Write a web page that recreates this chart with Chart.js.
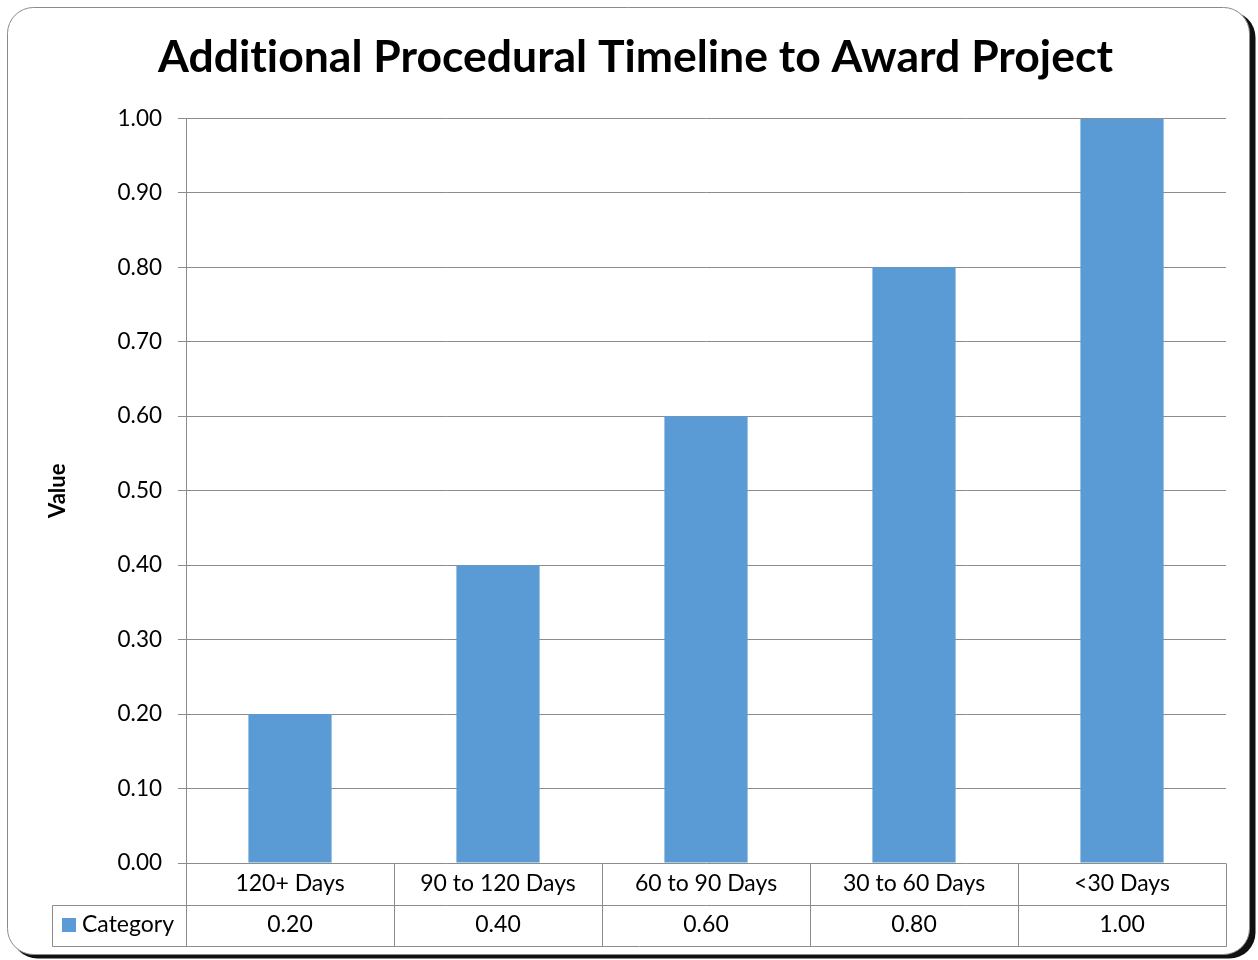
<!DOCTYPE html>
<html>
<head>
<meta charset="utf-8">
<script src="https://cdn.jsdelivr.net/npm/chart.js@4"></script>
<style>
  body { margin: 0; background: #fff; }
  #wrap { width: 1258px; height: 960px; }
</style>
</head>
<body>
<div id="wrap"><canvas id="myChart" width="1258" height="960"></canvas></div>
<script>
const categories = ["120+ Days", "90 to 120 Days", "60 to 90 Days", "30 to 60 Days", "<30 Days"];
const values = [0.2, 0.4, 0.6, 0.8, 1.0];
const seriesName = "Category";
const yMin = 0;
const yMax = 1;
const yStep = 0.1;

const FONT = "Lato, 'Open Sans', sans-serif";
const BAR = "#5b9bd5";
const LINE = "#8c8c8c";

function roundRectPath(ctx, x, y, w, h, r) {
  ctx.beginPath();
  ctx.moveTo(x + r, y);
  ctx.lineTo(x + w - r, y);
  ctx.arcTo(x + w, y, x + w, y + r, r);
  ctx.lineTo(x + w, y + h - r);
  ctx.arcTo(x + w, y + h, x + w - r, y + h, r);
  ctx.lineTo(x + r, y + h);
  ctx.arcTo(x, y + h, x, y + h - r, r);
  ctx.lineTo(x, y + r);
  ctx.arcTo(x, y, x + r, y, r);
  ctx.closePath();
}

// rounded outer frame with a dark shadow on the right and bottom
const framePlugin = {
  id: "frame",
  beforeDraw(chart) {
    const ctx = chart.ctx;
    ctx.save();
    ctx.fillStyle = "#111";
    roundRectPath(ctx, 11.5, 11.5, 1244, 947, 26);
    ctx.fill();
    ctx.fillStyle = "#fff";
    roundRectPath(ctx, 7.5, 7.5, 1242, 947, 26);
    ctx.fill();
    ctx.strokeStyle = "#8a8a8a";
    ctx.lineWidth = 1;
    ctx.stroke();
    ctx.restore();
  }
};

// data table under the x axis: category row, then value row with legend key
const tablePlugin = {
  id: "dataTable",
  afterDraw(chart) {
    const ctx = chart.ctx;
    const x = chart.scales.x;
    const area = chart.chartArea;
    const n = categories.length;
    const colW = (area.right - area.left) / n;
    const top = Math.round(area.bottom) + 0.5;
    const mid = top + 42;
    const bot = mid + 41;
    const left = Math.round(area.left) + 0.5;
    const right = Math.round(area.right) + 0.5;
    const keyLeft = 52.5;

    ctx.save();
    ctx.strokeStyle = LINE;
    ctx.lineWidth = 1;
    ctx.beginPath();
    ctx.moveTo(left, mid); ctx.lineTo(right, mid);
    ctx.moveTo(right, top); ctx.lineTo(right, bot);
    ctx.moveTo(keyLeft, mid); ctx.lineTo(left, mid);
    ctx.moveTo(keyLeft, bot); ctx.lineTo(right, bot);
    ctx.moveTo(keyLeft, mid); ctx.lineTo(keyLeft, bot);
    ctx.moveTo(left, top); ctx.lineTo(left, bot);
    for (let i = 1; i < n; i++) {
      const cx = Math.round(area.left + colW * i) + 0.5;
      ctx.moveTo(cx, top); ctx.lineTo(cx, bot);
    }
    ctx.stroke();

    ctx.fillStyle = "#000";
    ctx.font = "23px " + FONT;
    ctx.textAlign = "center";
    ctx.textBaseline = "middle";
    categories.forEach((c, i) => {
      const px = x.getPixelForValue(i);
      ctx.fillText(c, px, (top + mid) / 2 - 1);
      ctx.fillText(values[i].toFixed(2), px, (mid + bot) / 2 - 1);
    });

    ctx.fillStyle = BAR;
    ctx.fillRect(62, 918, 14, 14);
    ctx.fillStyle = "#000";
    ctx.textAlign = "left";
    ctx.fillText(seriesName, 82, (mid + bot) / 2 - 1);
    ctx.restore();
  }
};

new Chart(document.getElementById("myChart"), {
  type: "bar",
  data: {
    labels: categories,
    datasets: [{
      label: seriesName,
      data: values,
      backgroundColor: BAR,
      borderWidth: 0,
      barPercentage: 0.5,
      categoryPercentage: 0.8
    }]
  },
  options: {
    responsive: false,
    animation: false,
    devicePixelRatio: 1,
    layout: { padding: { left: 45, right: 32, top: 10, bottom: 14 } },
    plugins: {
      legend: { display: false },
      tooltip: { enabled: false },
      title: {
        display: true,
        // zero-width non-joiner keeps "t" and "i" as separate glyphs
        text: "Addit\u200Cional Procedural Timeline to Award Project",
        color: "#000",
        font: { family: FONT, size: 44.5, weight: "bold", lineHeight: 1.2 },
        padding: { top: 21, bottom: 34 }
      }
    },
    scales: {
      x: {
        ticks: { display: false },
        grid: { display: false },
        border: { display: false },
        afterFit(scale) { scale.height = 83; }
      },
      y: {
        min: yMin,
        max: yMax,
        ticks: {
          stepSize: yStep,
          color: "#000",
          padding: 16,
          font: { family: FONT, size: 22.5 },
          callback: (v) => Number(v).toFixed(2)
        },
        grid: { color: LINE, tickLength: 8, lineWidth: 1 },
        border: { display: true, color: LINE },
        title: {
          display: true,
          text: "Value",
          color: "#000",
          padding: { top: 0, bottom: 0 },
          font: { family: FONT, size: 22, weight: "bold", lineHeight: 1.2 }
        },
        afterFit(scale) { scale.width = 141; }
      }
    }
  },
  plugins: [framePlugin, tablePlugin]
});
</script>
</body>
</html>
